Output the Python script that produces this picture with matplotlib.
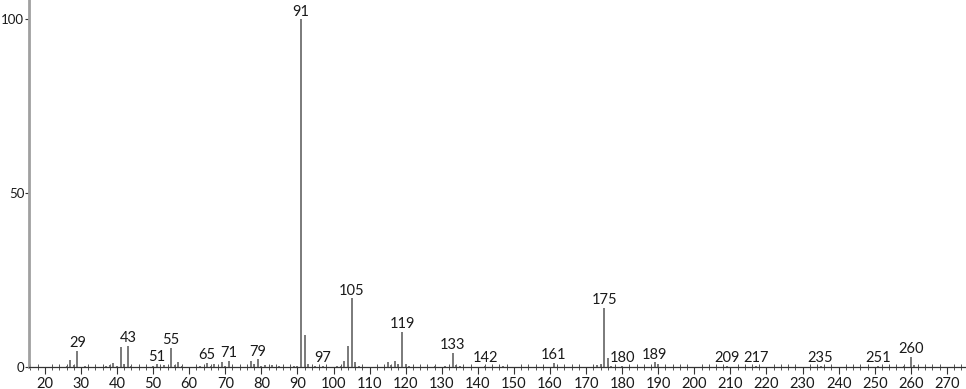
import matplotlib
matplotlib.use("Agg")
import matplotlib.pyplot as plt
from matplotlib.ticker import MultipleLocator

plt.rcParams['font.family'] = ['Lato', 'DejaVu Sans']

mz = [26, 27, 28, 29, 31, 37, 38, 39, 40, 41, 42, 43, 44, 50, 51, 53, 55, 56, 57, 58,
      63, 65, 66, 67, 69, 70, 71, 77, 78, 79, 80, 81, 83, 85, 89, 90, 91, 92, 93, 95,
      97, 101, 102, 103, 104, 105, 106, 107, 115, 116, 117, 118, 119, 120, 121, 128,
      131, 133, 134, 135, 142, 147, 161, 173, 174, 175, 176, 177, 180, 189, 190, 209,
      217, 235, 251, 258, 260, 261]
intensity = [0.3, 2.0, 0.5, 4.6, 0.2, 0.3, 0.5, 1.2, 0.2, 5.8, 1.0, 6.1, 0.3, 0.3, 0.8, 0.7, 5.5, 0.6, 1.5, 0.3,
             0.3, 1.2, 0.4, 0.8, 1.4, 0.3, 1.8, 1.8, 0.8, 2.2, 0.3, 0.7, 0.5, 0.3, 0.3, 0.3, 100, 9.3, 1.0, 0.3,
             0.4, 0.4, 0.4, 1.7, 6.0, 19.8, 1.5, 0.3, 1.3, 0.6, 1.8, 0.8, 10.2, 1.0, 0.3, 0.3,
             0.3, 4.0, 0.5, 0.3, 0.4, 0.3, 1.2, 0.5, 1.0, 17.0, 2.6, 0.4, 0.3, 1.3, 0.8, 0.3,
             0.3, 0.3, 0.3, 0.3, 3.0, 0.7]
labeled_peaks = [29, 43, 51, 55, 65, 71, 79, 91, 97, 105, 119, 133, 142, 161, 175, 180,
                 189, 209, 217, 235, 251, 260]
x_ticks = list(range(20, 271, 10))
y_ticks = [0, 50, 100]

fig = plt.figure(figsize=(9.66, 3.89), dpi=100)
ax = fig.add_axes([29/966, 22/389, 1 - 29/966, 1 - 22/389])
ax.vlines(mz, 0, intensity, colors='#707070', linewidth=1.3)

lookup = dict(zip(mz, intensity))
for m in labeled_peaks:
    ax.annotate(str(m), xy=(m, lookup[m]), xytext=(0, 2.6), textcoords='offset points',
                ha='center', va='baseline', fontsize=10.5, color='#1a1a1a')

ax.set_xlim(15.6, 275.3)
ax.set_ylim(0, 105.5)
ax.set_xticks(x_ticks)
ax.set_yticks(y_ticks)
ax.xaxis.set_minor_locator(MultipleLocator(2))
for s in ['top', 'right']:
    ax.spines[s].set_visible(False)
ax.spines['left'].set_color('#a0a0a0')
ax.spines['left'].set_linewidth(2)
ax.spines['bottom'].set_color('#333333')
ax.spines['bottom'].set_linewidth(0.9)
ax.tick_params(axis='x', which='major', direction='out', length=5, width=0.8,
               color='#333333', labelsize=10.5, labelcolor='#1a1a1a', pad=2)
ax.tick_params(axis='x', which='minor', direction='inout', length=4, width=0.7, color='#555555')
ax.tick_params(axis='y', which='major', direction='out', length=3, width=0.8,
               color='#333333', labelsize=9.5, labelcolor='#1a1a1a', pad=0.5)
fig.savefig('out.png', dpi=100, facecolor='white')
